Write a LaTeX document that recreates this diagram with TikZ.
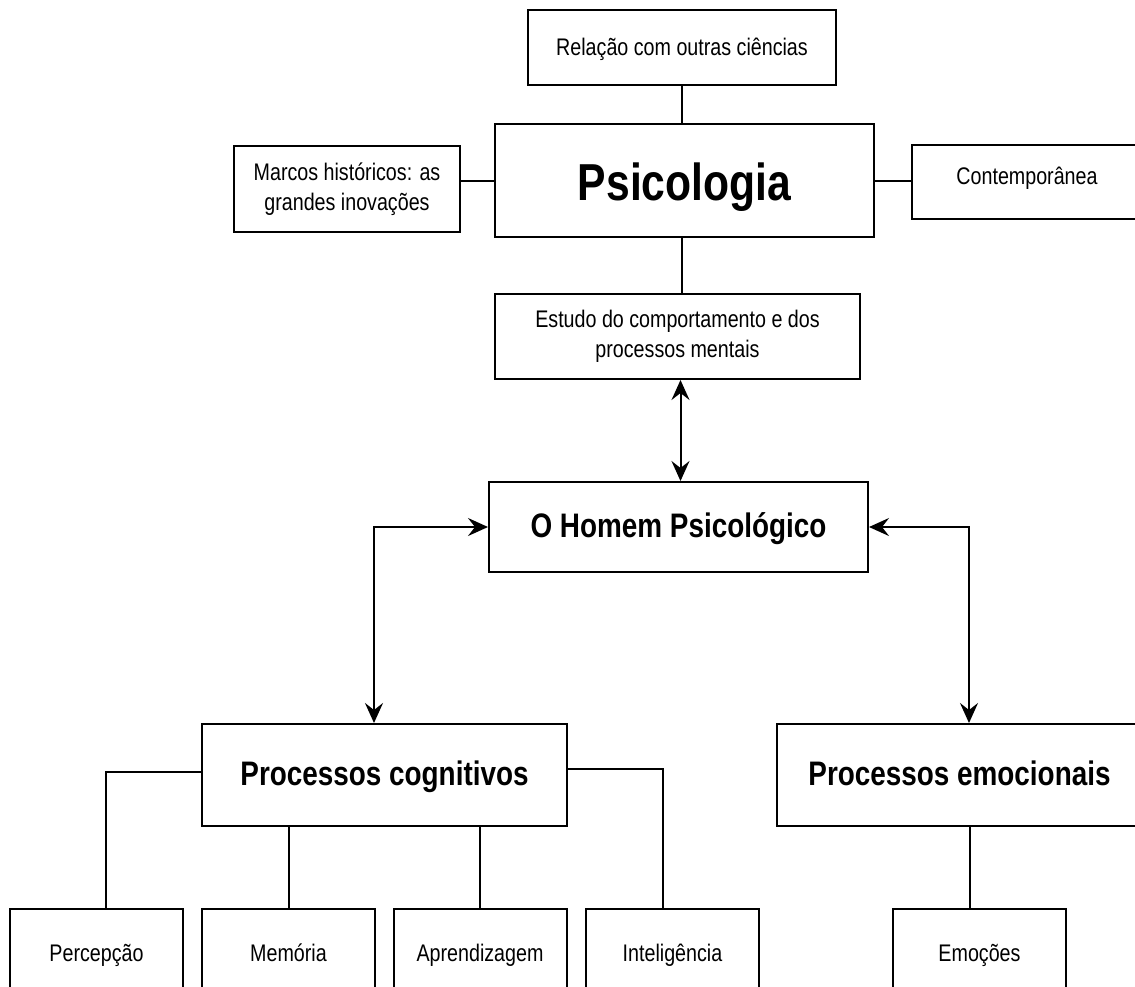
\documentclass[tikz,border=0pt]{standalone}
\usepackage{fontspec}
\setmainfont{Liberation Sans}[FakeStretch=0.82]
\usepackage{tikz}
\usetikzlibrary{arrows.meta, positioning}

\begin{document}
\begin{tikzpicture}[
        x=1pt, y=-1pt, line width=2pt,
        >={Stealth[length=20pt,width=18pt,inset=7pt]},
        box/.style={draw, rectangle, inner sep=0pt, align=center,
          font=\fontsize{24}{30}\selectfont},
        one/.style={text height=21pt, text depth=6pt},
        head/.style={box, text height=28pt, text depth=8pt,
          font=\bfseries\fontsize{34}{40}\selectfont},
        leaf/.style={box, one, minimum width=173pt, minimum height=90pt}
        ]
        \clip (0,0) rectangle (1135,986);
        \fill[white] (0,0) rectangle (1135,986);

        % top part
        \node[box, one, minimum width=308pt, minimum height=75pt] (rel)    at (682,47.5)   {Relação com outras ciências};
        \node[box, minimum width=379pt, minimum height=113pt,
              text height=52pt, text depth=13pt,
              font=\bfseries\fontsize{52}{60}\selectfont]         (psi)    at (684.5,180.5) {Psicologia};
        \node[box, minimum width=226pt, minimum height=86pt]      (marcos) at (347,189)     {Marcos históricos: as\\grandes inovações};
        \node[box, minimum width=230pt, minimum height=74pt,
              text height=17pt, text depth=12pt]                  (cont)   at (1027,182)    {Contemporânea};
        \node[box, minimum width=365pt, minimum height=85pt]      (est)    at (677.5,336.5) {Estudo do comportamento e dos\\processos mentais};
        \node[head, minimum width=379pt, minimum height=90pt]     (hom)    at (678.5,527)   {O Homem Psicológico};

        % processos
        \node[head, minimum width=365pt, minimum height=102pt] (cog) at (384.5,775) {Processos cognitivos};
        \node[head, minimum width=365pt, minimum height=102pt] (emo) at (959.5,775) {Processos emocionais};

        \node[leaf] (perc) at (96.5,954)  {Percepção};
        \node[leaf] (mem)  at (288.5,954) {Memória};
        \node[leaf] (apr)  at (480,954)   {Aprendizagem};
        \node[leaf] (int)  at (672.5,954) {Inteligência};
        \node[leaf] (emoc) at (979.5,954) {Emoções};

        \draw (rel) -- (rel |- psi.north);
        \draw (psi.west) -- (psi.west -| marcos.east);
        \draw (psi.east) -- (psi.east -| cont.west);
        \draw ([xshift=-3pt]psi.south) -- ([xshift=-3pt]psi.south |- est.north);
        \draw[<->] ([xshift=3pt]est.south) -- ([xshift=3pt]est.south |- hom.north);
        \draw[<->] (hom.west) -| ([xshift=-10.5pt]cog.north);
        \draw[<->] (hom.east) -| ([xshift=9.5pt]emo.north);

        \draw ([yshift=3pt]cog.west) -| (perc.north -| 106,0);
        \draw ([yshift=6pt]cog.east) -| (int.north -| 663,0);
        \draw (cog.south -| mem.north) -- (mem.north);
        \draw (cog.south -| apr.north) -- (apr.north);
        \draw (emo.south -| 970,0) -- (emoc.north -| 970,0);
\end{tikzpicture}
\end{document}
